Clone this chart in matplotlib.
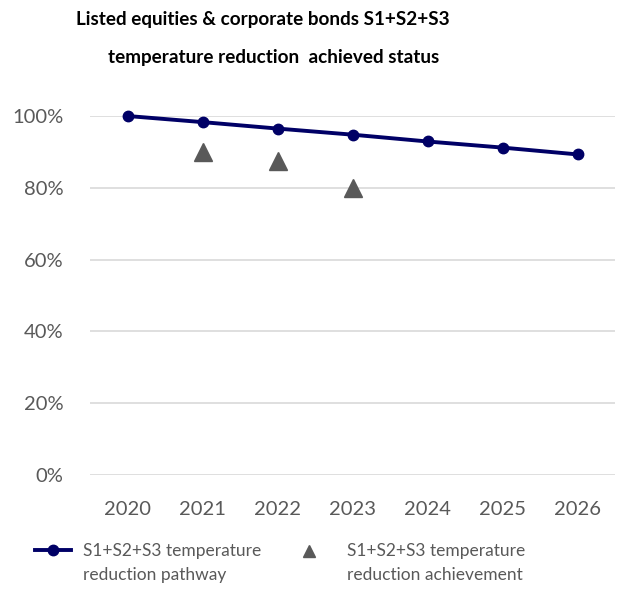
import matplotlib.pyplot as plt
from matplotlib.ticker import PercentFormatter

plt.rcParams['font.family'] = ['Lato', 'DejaVu Sans']

years = ['2020', '2021', '2022', '2023', '2024', '2025', '2026']
pathway = [1.000, 0.983, 0.965, 0.948, 0.929, 0.912, 0.893]
achieved_years = ['2021', '2022', '2023']
achieved = [0.899, 0.874, 0.800]

gray = '#595959'
navy = '#000066'

fig = plt.figure(figsize=(6.29, 5.91), dpi=100)
ax = fig.add_axes([90 / 629, 1 - 475 / 591, 525 / 629, 359 / 591])

x = list(range(len(years)))
ax_pos = [years.index(y) for y in achieved_years]
ax.plot(x, pathway, color=navy, lw=2.8, marker='o', ms=7.5, zorder=3,
        clip_on=False)
ax.plot(ax_pos, achieved, ls='none', marker='^', ms=13, color=gray,
        mec=gray, zorder=3)

ax.set_xlim(-0.5, len(years) - 0.5)
ax.set_ylim(0, 1.0)
ax.set_yticks([0, 0.2, 0.4, 0.6, 0.8, 1.0])
ax.yaxis.set_major_formatter(PercentFormatter(1.0, decimals=0))
ax.set_xticks(x)
ax.set_xticklabels(years)
ax.grid(axis='y', color='#d9d9d9', lw=1.2)
ax.set_axisbelow(True)
for s in ax.spines.values():
    s.set_visible(False)
ax.tick_params(length=0, labelsize=14.5, colors=gray)
ax.tick_params(axis='x', pad=19)
ax.tick_params(axis='y', pad=19)

# title
fig.text(263 / 629, 1 - 19 / 591, 'Listed equities & corporate bonds S1+S2+S3',
         ha='center', va='center', fontsize=13.6, fontweight='bold')
fig.text(274 / 629, 1 - 58 / 591, 'temperature reduction  achieved status',
         ha='center', va='center', fontsize=13.6, fontweight='bold')

# legend drawn by hand
fig.add_artist(plt.Line2D([35 / 629, 71 / 629], [1 - 550 / 591] * 2,
                          color=navy, lw=2.8, transform=fig.transFigure))
fig.add_artist(plt.Line2D([53 / 629], [1 - 550 / 591], color=navy, marker='o',
                          ms=7.5, transform=fig.transFigure))
fig.text(83 / 629, 1 - 563 / 591, 'S1+S2+S3 temperature\nreduction pathway',
         ha='left', va='center', fontsize=12.5, color=gray, linespacing=1.55)
fig.add_artist(plt.Line2D([309 / 629], [1 - 551 / 591], color=gray, marker='^',
                          ms=9, ls='none', transform=fig.transFigure))
fig.text(347 / 629, 1 - 563 / 591, 'S1+S2+S3 temperature\nreduction achievement',
         ha='left', va='center', fontsize=12.5, color=gray, linespacing=1.55)

fig.savefig('out.png', dpi=100)
